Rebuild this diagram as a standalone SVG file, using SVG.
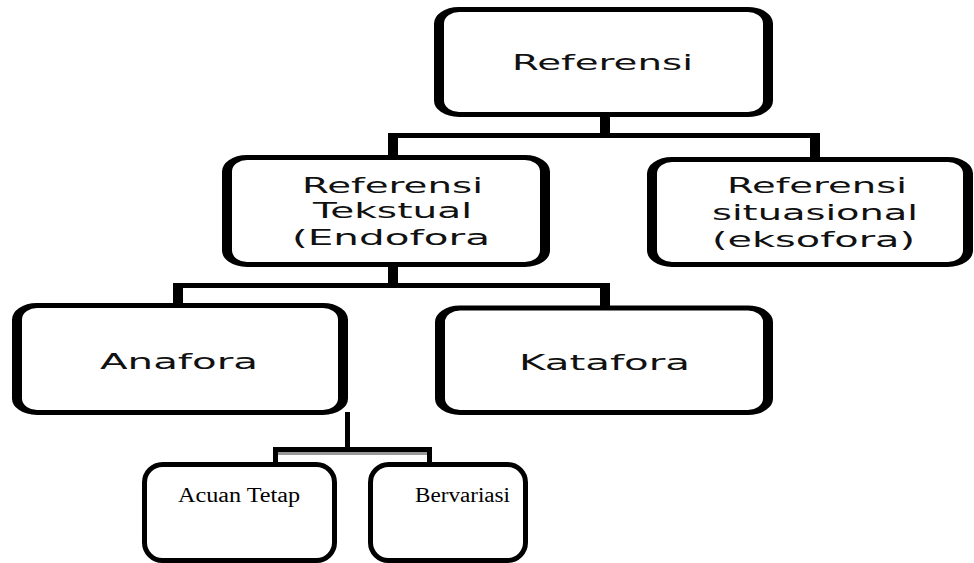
<svg xmlns="http://www.w3.org/2000/svg" width="974" height="563" viewBox="0 0 974 563">
<style>
.box{fill:#fff;stroke:#000;stroke-width:5}
.conn{fill:none;stroke:#000;stroke-width:5;stroke-linejoin:miter;stroke-linecap:butt}
.sans{font-family:"DejaVu Sans","Open Sans",sans-serif;font-size:20.5px;fill:#111}
.serif{font-family:"Liberation Serif","Times New Roman",serif;font-size:20px;fill:#000}
</style>
<rect width="974" height="563" fill="#fff"/>
<g id="connectors">
  <g transform="scale(2,1)">
    <path class="conn" d="M302.5,116 V135.5 M196.5,158 V135.5 H407.5 V160"/>
    <path class="conn" d="M196.5,266 V285.5 M89,306 V285.5 H302.5 V308"/>
  </g>
  <path class="conn" d="M347.5,412 V449.5 M275.5,465 V449.5 H429.5 V465"/>
  <rect x="278" y="452" width="149" height="3" fill="#999"/>
</g>
<g transform="scale(2,1)">
  <g id="n-referensi">
    <rect class="box" x="219.5" y="9.5" width="164.5" height="105" rx="10" ry="14"/>
    <text class="sans" x="256" y="70" textLength="90.5" lengthAdjust="spacingAndGlyphs">Referensi</text>
  </g>
  <g id="n-tekstual">
    <rect class="box" x="113.5" y="157.5" width="159" height="107" rx="10" ry="14"/>
    <text class="sans" x="151" y="193" textLength="90.5" lengthAdjust="spacingAndGlyphs">Referensi</text>
    <text class="sans" x="156.5" y="218" textLength="79.5" lengthAdjust="spacingAndGlyphs">Tekstual</text>
    <text class="sans" x="146" y="245" textLength="99" lengthAdjust="spacingAndGlyphs">(Endofora</text>
  </g>
  <g id="n-situasional">
    <rect class="box" x="326" y="159.5" width="158" height="105" rx="10" ry="14"/>
    <text class="sans" x="363.5" y="193" textLength="90" lengthAdjust="spacingAndGlyphs">Referensi</text>
    <text class="sans" x="356" y="220" textLength="103" lengthAdjust="spacingAndGlyphs">situasional</text>
    <text class="sans" x="356" y="247" textLength="101.5" lengthAdjust="spacingAndGlyphs">(eksofora)</text>
  </g>
  <g id="n-anafora">
    <rect class="box" x="8.5" y="305.5" width="163" height="107" rx="10" ry="14"/>
    <text class="sans" x="50" y="369" textLength="79" lengthAdjust="spacingAndGlyphs">Anafora</text>
  </g>
  <g id="n-katafora">
    <rect class="box" x="220" y="308" width="164" height="104.5" rx="10" ry="14"/>
    <text class="sans" x="259.5" y="370" textLength="85.5" lengthAdjust="spacingAndGlyphs">Katafora</text>
  </g>
</g>
<g id="n-acuan-tetap">
  <rect class="box" x="144.5" y="464.5" width="190" height="96" rx="18" ry="18"/>
  <text class="serif" x="178" y="502" textLength="122" lengthAdjust="spacingAndGlyphs">Acuan Tetap</text>
</g>
<g id="n-bervariasi">
  <rect class="box" x="370.5" y="464.5" width="155" height="96" rx="18" ry="18"/>
  <text class="serif" x="415" y="502" textLength="95" lengthAdjust="spacingAndGlyphs">Bervariasi</text>
</g>
</svg>
